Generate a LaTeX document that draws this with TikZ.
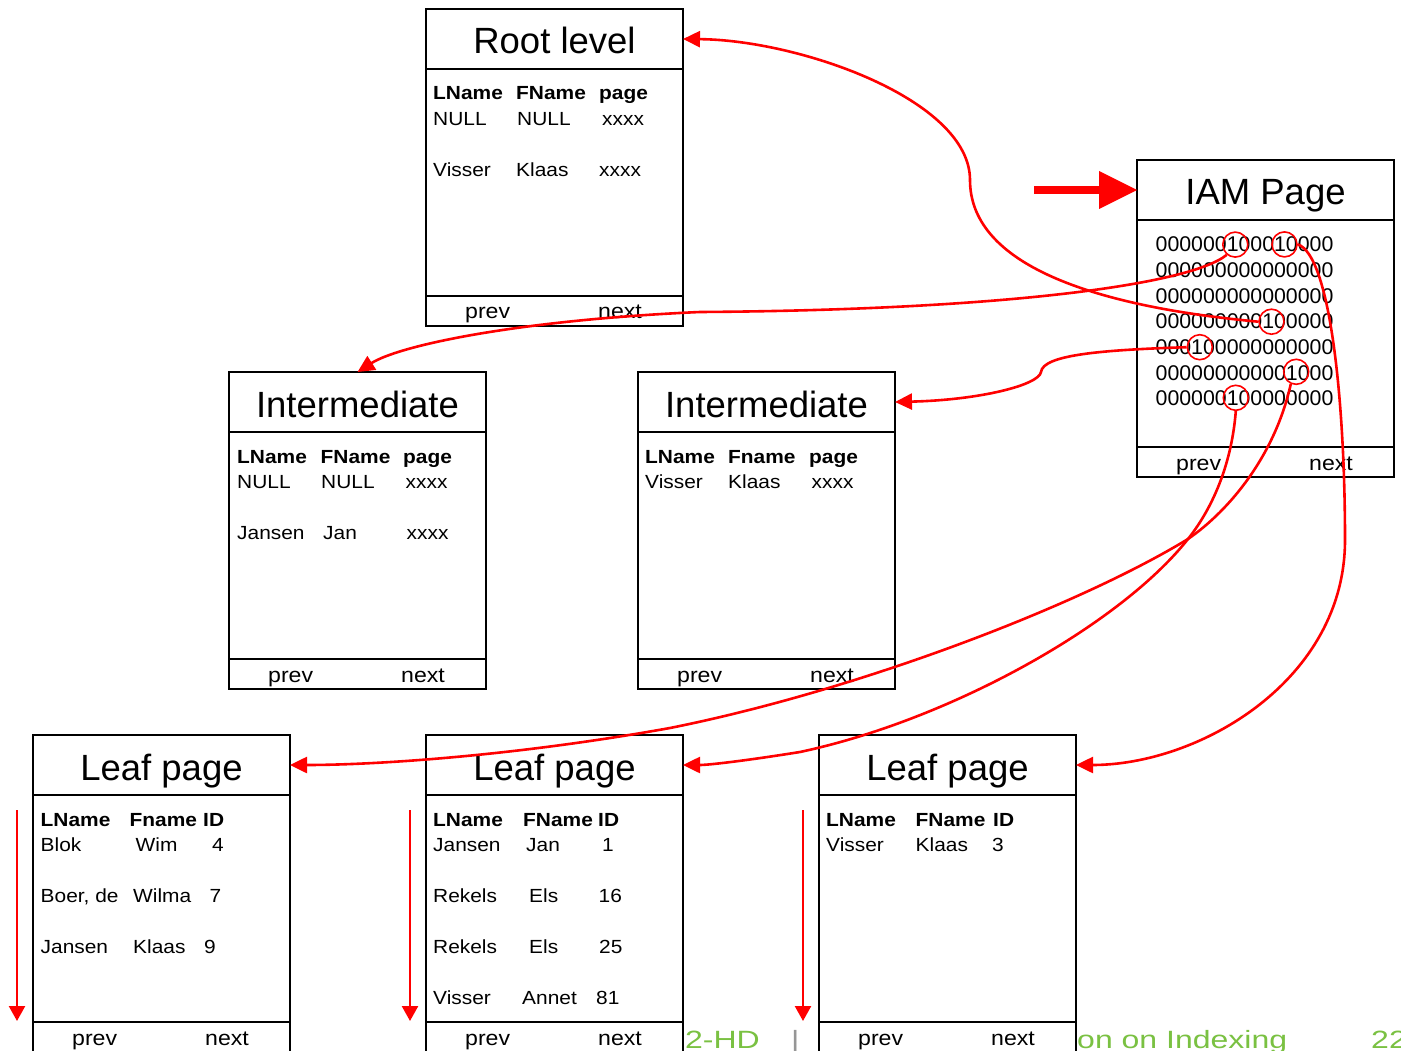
\documentclass[tikz,border=0pt]{standalone}
\usepackage{fontspec}
\setmainfont{Liberation Sans}
\newfontfamily\bodyfont[FakeStretch=1.1]{Liberation Sans}
\newfontfamily\slidefont[FakeStretch=1.28]{Liberation Sans}
\usetikzlibrary{arrows.meta,calc}

\definecolor{slidegreen}{RGB}{122,193,66}
\definecolor{slidegray}{RGB}{150,150,150}

\tikzset{
  frame/.style={draw=black, line width=2.2pt, fill=white, rectangle,
                inner sep=0pt, outer sep=0pt, minimum width=257pt},
  ptitle/.style={frame, minimum height=60pt},
  pbody/.style={frame, minimum height=227pt},
  pfoot/.style={frame, minimum height=30pt},
  ttl/.style={inner sep=0pt, anchor=base, font=\fontsize{36.5}{40}\selectfont},
  cell/.style={inner sep=0pt, anchor=base west, font=\bodyfont\fontsize{19}{22}\selectfont},
  fcell/.style={inner sep=0pt, anchor=base west, font=\bodyfont\fontsize{21}{24}\selectfont},
  bits/.style={inner sep=0pt, anchor=base west, font=\fontsize{21.3}{24}\selectfont},
  ring/.style={circle, draw=red, line width=1.6pt, minimum size=25pt, inner sep=0pt},
  link/.style={draw=red, line width=2.6pt, -{Triangle[length=17pt,width=16pt]}},
  scan/.style={draw=red, line width=2.4pt, -{Triangle[length=15pt,width=16pt]}},
  bigarrow/.style={draw=red, line width=8.3pt, -{Triangle[length=38pt,width=38pt,line width=0pt]}},
  slide/.style={inner sep=0pt, text=slidegreen, font=\slidefont\fontsize{25}{28}\selectfont},
}

% one index page: title strip, body and prev/next strip
\newcommand\pageframe[4]{%
  \node[ptitle, anchor=north west] (#1) at (#2,#3) {};
  \node[pbody, anchor=north west] (#1-body) at (#1.south west) {};
  \node[pfoot, anchor=north west] (#1-foot) at (#1-body.south west) {};
  \begin{scope}[shift={(#2,#3)}]
    \node[ttl] (#1-title) at (128.5,45) {#4};
    \node[fcell] (#1-prev) at (39,310) {prev};
    \node[fcell] (#1-next) at (172,310) {next};
  \end{scope}}

% one row of three columns: name, baseline, then (x, text) three times
\newcommand\trow[8]{%
  \node[cell] (#1-a) at (#3,#2) {#4};
  \node[cell] (#1-b) at (#5,#2) {#6};
  \node[cell] (#1-c) at (#7,#2) {#8};}

\begin{document}
\begin{tikzpicture}[x=1pt,y=-1pt]
\useasboundingbox (0,0) rectangle (1401,1051);
\fill[white] (0,0) rectangle (1401,1051);

% slide footer, partly covered by the leaf pages
\node[slide, anchor=base east] (foot-code) at (760,1048) {02-HD};
\node[slide, anchor=base west, text=slidegray] (foot-bar) at (791,1048) {|};
\node[slide, anchor=base west] (foot-title) at (1077,1048) {on on Indexing};
\node[slide, anchor=base west] (foot-num) at (1371,1048) {22};

% root level
\pageframe{root}{426}{9}{Root level}
\trow{root-h}{100}{433}{\bfseries LName}{516}{\bfseries FName}{599}{\bfseries page}
\trow{root-r1}{125.5}{433}{NULL}{517}{NULL}{602}{xxxx}
\trow{root-r2}{176.5}{433}{Visser}{516}{Klaas}{599}{xxxx}

% intermediate level
\pageframe{ileft}{229}{372}{Intermediate}
\trow{ileft-h}{463}{237}{\bfseries LName}{320.5}{\bfseries FName}{403}{\bfseries page}
\trow{ileft-r1}{488.5}{237}{NULL}{321}{NULL}{405.5}{xxxx}
\trow{ileft-r2}{539.5}{237}{Jansen}{323}{Jan}{406.5}{xxxx}

\pageframe{iright}{638}{372}{Intermediate}
\trow{iright-h}{463}{645}{\bfseries LName}{728}{\bfseries Fname}{809}{\bfseries page}
\trow{iright-r1}{488.5}{645}{Visser}{728}{Klaas}{811.5}{xxxx}

% IAM page with its allocation bitmap
\pageframe{iam}{1137}{160}{IAM Page}
\node[bits] (bits1) at (1155.5,251.7) {000000100010000};
\node[bits] (bits2) at (1155.5,277.4) {000000000000000};
\node[bits] (bits3) at (1155.5,303.0) {000000000000000};
\node[bits] (bits4) at (1155.5,328.7) {000000000100000};
\node[bits] (bits5) at (1155.5,354.4) {000100000000000};
\node[bits] (bits6) at (1155.5,380.0) {000000000001000};
\node[bits] (bits7) at (1155.5,405.7) {000000100000000};

\node[ring] (c1) at (1235.3,244.6) {};
\node[ring] (c2) at (1284.5,244.4) {};
\node[ring] (c4) at (1271.5,321.7) {};
\node[ring] (c5) at (1199.8,347.2) {};
\node[ring] (c6) at (1296.2,371.8) {};
\node[ring] (c7) at (1235.8,397.8) {};

% leaf level
\pageframe{leafA}{33}{735}{Leaf page}
\trow{leafA-h}{826}{40.5}{\bfseries LName}{129.5}{\bfseries Fname}{203}{\bfseries ID}
\trow{leafA-r1}{851.5}{40.5}{Blok}{135.5}{Wim}{212}{4}
\trow{leafA-r2}{902.5}{40.5}{Boer, de}{133}{Wilma}{209.5}{7}
\trow{leafA-r3}{953.5}{40.5}{Jansen}{133}{Klaas}{204}{9}

\pageframe{leafB}{426}{735}{Leaf page}
\trow{leafB-h}{826}{433}{\bfseries LName}{523}{\bfseries FName}{598}{\bfseries ID}
\trow{leafB-r1}{851.5}{433}{Jansen}{526}{Jan}{602}{1}
\trow{leafB-r2}{902.5}{433}{Rekels}{529}{Els}{598.5}{16}
\trow{leafB-r3}{953.5}{433}{Rekels}{529}{Els}{599}{25}
\trow{leafB-r4}{1004.5}{433}{Visser}{522}{Annet}{596}{81}

\pageframe{leafC}{819}{735}{Leaf page}
\trow{leafC-h}{826}{826}{\bfseries LName}{915.5}{\bfseries FName}{993}{\bfseries ID}
\trow{leafC-r1}{851.5}{826}{Visser}{915.5}{Klaas}{992}{3}

% scan order inside each leaf
\coordinate (scanA-top) at (17,810);   \coordinate (scanA-end) at (17,1021);
\coordinate (scanB-top) at (410,810);  \coordinate (scanB-end) at (410,1021);
\coordinate (scanC-top) at (803,810);  \coordinate (scanC-end) at (803,1021);
\draw[scan] (scanA-top) -- (scanA-end);
\draw[scan] (scanB-top) -- (scanB-end);
\draw[scan] (scanC-top) -- (scanC-end);

% entry into the IAM page
\coordinate (iam-in) at (1034,190);
\draw[bigarrow] (iam-in) -- (iam.west);

% bitmap bits pointing at their pages
\draw[link] (c1.230) .. controls (1190,285) and (1000,310) .. (700,312)
            .. controls (520,320) and (400,345) .. (ileft.north);
\draw[link] (c4.west) .. controls (1080,305) and (970,260) .. (970,180)
            .. controls (970,100) and (800,40) .. (root.east);
\draw[link] (c5.west) .. controls (1100,350) and (1043,355) .. (1041,372)
            .. controls (1039,385) and (980,400) .. (iright.east);
\draw[link] (c2.east) .. controls (1330,255) and (1345,400) .. (1345,540)
            .. controls (1345,680) and (1200,765) .. (leafC.east);
\draw[link] (c6.246) .. controls (1275,455) and (1230,510) .. (1188,539)
            .. controls (1080,605) and (860,690) .. (670,728)
            .. controls (520,755) and (380,765) .. (leafA.east);
\draw[link] (c7.south) .. controls (1232,460) and (1215,505) .. (1188,539)
            .. controls (1120,625) and (950,720) .. (800,752)
            .. controls (750,760) and (710,765) .. (leafB.east);
\end{tikzpicture}
\end{document}
